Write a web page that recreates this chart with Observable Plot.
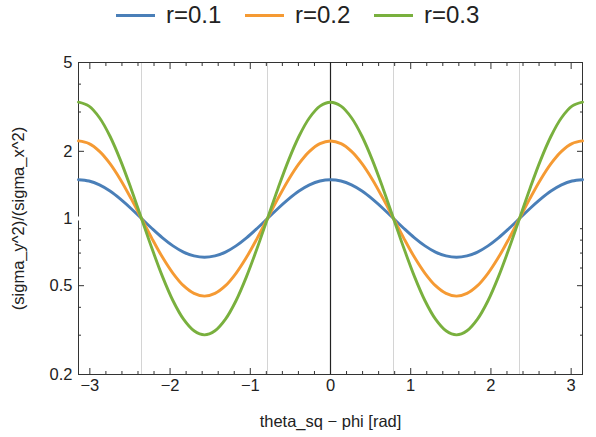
<!DOCTYPE html>
<html>
<head>
<meta charset="utf-8">
<script src="https://cdn.jsdelivr.net/npm/d3@7"></script>
<script src="https://cdn.jsdelivr.net/npm/@observablehq/plot@0.6"></script>
<style>
  body { margin: 0; background: #fff; font-family: "Liberation Sans", Arial, sans-serif; }
  #legend { height: 40px; position: relative; }
  .item { position: absolute; top: 0; height: 30px; display: flex; align-items: center; font-size: 24px; color: #222; }
  .sw { width: 39px; height: 3px; margin-right: 11px; }
</style>
</head>
<body>
<div id="legend"></div>
<div id="chart"></div>
<script>
// data
const seriesNames = ["r=0.1", "r=0.2", "r=0.3"];
const colors = ["#4a7fb8", "#f59a33", "#79b03e"];
const xs = [-3.1416,-3.0107,-2.8798,-2.7489,-2.6180,-2.4871,-2.3562,-2.2253,-2.0944,-1.9635,-1.8326,-1.7017,-1.5708,
  -1.4399,-1.3090,-1.1781,-1.0472,-0.9163,-0.7854,-0.6545,-0.5236,-0.3927,-0.2618,-0.1309,0,
  0.1309,0.2618,0.3927,0.5236,0.6545,0.7854,0.9163,1.0472,1.1781,1.3090,1.4399,1.5708,
  1.7017,1.8326,1.9635,2.0944,2.2253,2.3562,2.4871,2.6180,2.7489,2.8798,3.0107,3.1416];
const r01 = [1.492,1.472,1.414,1.327,1.221,1.109,1,0.902,0.819,0.754,0.707,0.680,0.670,
  0.680,0.707,0.754,0.819,0.902,1,1.109,1.221,1.327,1.414,1.472,1.492,
  1.472,1.414,1.327,1.221,1.109,1,0.902,0.819,0.754,0.707,0.680,0.670,
  0.680,0.707,0.754,0.819,0.902,1,1.109,1.221,1.327,1.414,1.472,1.492];
const r02 = [2.226,2.166,1.999,1.761,1.492,1.230,1,0.813,0.670,0.568,0.500,0.462,0.449,
  0.462,0.500,0.568,0.670,0.813,1,1.230,1.492,1.761,1.999,2.166,2.226,
  2.166,1.999,1.761,1.492,1.230,1,0.813,0.670,0.568,0.500,0.462,0.449,
  0.462,0.500,0.568,0.670,0.813,1,1.230,1.492,1.761,1.999,2.166,2.226];
const r03 = [3.320,3.187,2.827,2.336,1.822,1.364,1,0.733,0.549,0.428,0.354,0.314,0.301,
  0.314,0.354,0.428,0.549,0.733,1,1.364,1.822,2.336,2.827,3.187,3.320,
  3.187,2.827,2.336,1.822,1.364,1,0.733,0.549,0.428,0.354,0.314,0.301,
  0.314,0.354,0.428,0.549,0.733,1,1.364,1.822,2.336,2.827,3.187,3.320];
const xMajor = [-3,-2,-1,0,1,2,3];
const xMinor = [-2.8,-2.6,-2.4,-2.2,-1.8,-1.6,-1.4,-1.2,-0.8,-0.6,-0.4,-0.2,0.2,0.4,0.6,0.8,1.2,1.4,1.6,1.8,2.2,2.4,2.6,2.8];
const yMajor = [0.2,0.5,1,2,5];
const yMinor = [0.3,0.4,0.6,0.7,0.8,0.9,3,4];
const gridX = [-2.3562,-0.7854,0.7854,2.3562];
const xDomain = [-3.1416, 3.1416];
const yDomain = [0.2, 5];

const allSeries = [r01, r02, r03];
const rows = [];
allSeries.forEach((vals, s) => vals.forEach((v, i) => rows.push({x: xs[i], y: v, s: seriesNames[s]})));

// legend
const legend = document.getElementById("legend");
const lefts = [116, 245, 374];
seriesNames.forEach((n, i) => {
  const it = document.createElement("div");
  it.className = "item";
  it.style.left = lefts[i] + "px";
  it.innerHTML = `<span class="sw" style="background:${colors[i]}"></span><span>${n}</span>`;
  legend.appendChild(it);
});

const fmt = d => String(d).replace("-", "\u2212");
const blank = () => "";
const ax = "#333";

const chart = Plot.plot({
  width: 596,
  height: 397,
  marginLeft: 78,
  marginRight: 14,
  marginTop: 22,
  marginBottom: 63,
  style: {fontFamily: "'Liberation Sans', Arial, sans-serif", fontSize: "16.5px", color: "#222", background: "#fff"},
  x: {domain: xDomain},
  y: {type: "log", domain: yDomain},
  color: {domain: seriesNames, range: colors},
  marks: [
    Plot.ruleX(gridX, {stroke: "#d4d4d4", strokeWidth: 1}),
    Plot.frame({stroke: ax, strokeWidth: 1}),
    Plot.axisX(xMajor, {anchor: "bottom", tickSize: -6, tickPadding: 11, tickFormat: fmt, stroke: ax,
      label: "theta_sq \u2212 phi [rad]", labelAnchor: "center", labelOffset: 52, labelArrow: "none"}),
    Plot.axisX(xMinor, {anchor: "bottom", tickSize: -3, tickFormat: blank, stroke: ax, label: null}),
    Plot.axisX(xMajor, {anchor: "top", tickSize: -6, tickFormat: blank, stroke: ax, label: null}),
    Plot.axisX(xMinor, {anchor: "top", tickSize: -3, tickFormat: blank, stroke: ax, label: null}),
    Plot.axisY(yMajor, {anchor: "left", tickSize: -6, tickPadding: 12, tickFormat: d => String(d), stroke: ax,
      label: "(sigma_y^2)/(sigma_x^2)", labelAnchor: "center", labelOffset: 66, labelArrow: "none"}),
    Plot.axisY(yMinor, {anchor: "left", tickSize: -3, tickFormat: blank, stroke: ax, label: null}),
    Plot.axisY(yMajor, {anchor: "right", tickSize: -6, tickFormat: blank, stroke: ax, label: null}),
    Plot.axisY(yMinor, {anchor: "right", tickSize: -3, tickFormat: blank, stroke: ax, label: null}),
    Plot.ruleY([1], {stroke: "#fff", strokeWidth: 4}),
    Plot.ruleX([0], {stroke: "#222", strokeWidth: 1.2}),
    Plot.line(rows, {x: "x", y: "y", z: "s", stroke: "s", strokeWidth: 2.9, curve: "catmull-rom"})
  ]
});
document.getElementById("chart").appendChild(chart);
</script>
</body>
</html>
